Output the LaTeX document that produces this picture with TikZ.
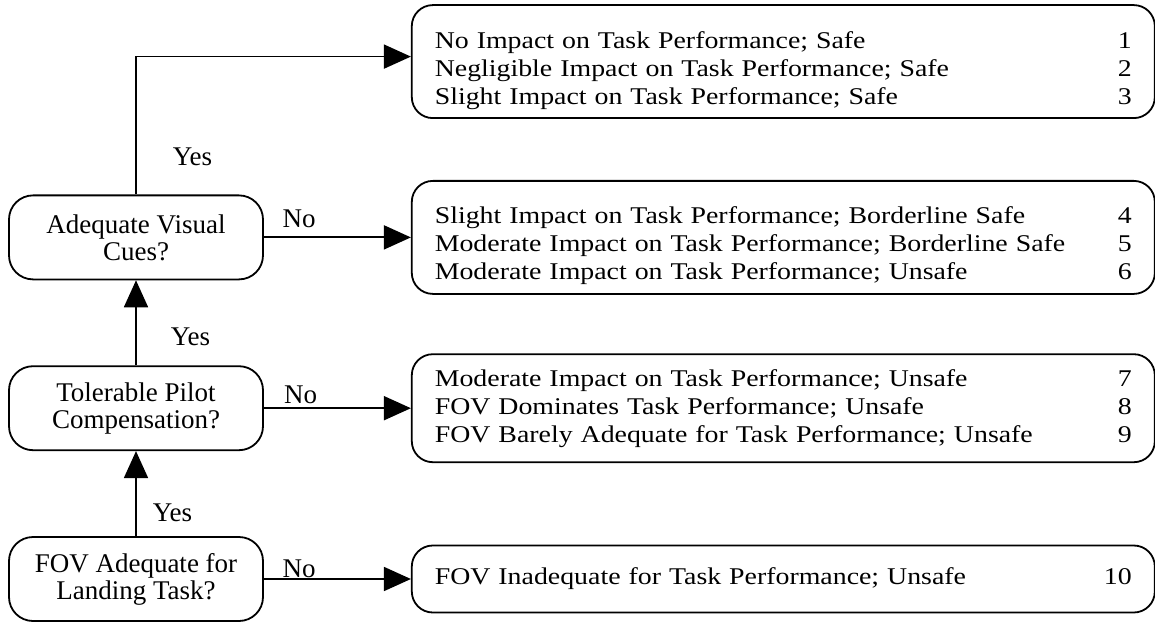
\documentclass[tikz,border=0pt]{standalone}
\usepackage{fontspec}
\setmainfont{Liberation Serif}
\newfontfamily\ratingfont[FakeStretch=1.16]{Liberation Serif}
\usepackage{tikz}
\usetikzlibrary{arrows.meta,positioning}
\tikzset{
    decision/.style={rectangle, draw, line width=1.8pt, rounded corners=24pt, minimum width=254pt, minimum height=84pt, align=center, font=\fontsize{27}{27}\selectfont},
    outcome/.style={rectangle, draw, line width=1.8pt, rounded corners=21pt, text width=697pt, inner xsep=23pt, minimum height=113pt, align=left, font=\ratingfont\fontsize{24}{28}\selectfont},
    lowered/.style={execute at begin node={\rule{0pt}{34pt}}},
    flow/.style={-{Triangle[length=27pt, width=24pt]}, line width=1.8pt},
    answer/.style={font=\fontsize{27}{27}\selectfont, inner sep=2pt},
}
\newcommand{\rating}[2]{\noindent\makebox[\hsize][l]{#1\hfill #2}}

\begin{document}
\begin{tikzpicture}[x=1pt, y=1pt, node distance=85pt and 147pt]
    \useasboundingbox (0,0) rectangle (1155,622);
    \node[decision] (fov) at (136,43) {FOV Adequate for\\Landing Task?};
    \node[decision, above=of fov] (tpc) {Tolerable Pilot\\Compensation?};
    \node[decision, above=of tpc] (avc) {Adequate Visual\\Cues?};

    \node[outcome, lowered, right=of avc] (r46) {\rating{Slight Impact on Task Performance; Borderline Safe}{4}\\
        \rating{Moderate Impact on Task Performance; Borderline Safe}{5}\\
        \rating{Moderate Impact on Task Performance; Unsafe}{6}};
    \node[outcome, lowered, above=61pt of r46] (r13) {\rating{No Impact on Task Performance; Safe}{1}\\
        \rating{Negligible Impact on Task Performance; Safe}{2}\\
        \rating{Slight Impact on Task Performance; Safe}{3}};
    \node[outcome, right=of tpc, minimum height=108pt] (r79) {\rating{Moderate Impact on Task Performance; Unsafe}{7}\\
        \rating{FOV Dominates Task Performance; Unsafe}{8}\\
        \rating{FOV Barely Adequate for Task Performance; Unsafe}{9}};
    \node[outcome, right=of fov, minimum height=67pt] (r10) {\rating{FOV Inadequate for Task Performance; Unsafe}{10}};

    \draw[flow] (fov) -- node[answer, right=14pt, pos=0.28] {Yes} (tpc);
    \draw[flow] (tpc) -- node[answer, right=32pt, pos=0.33] {Yes} (avc);
    \draw[flow] (avc.north) |- node[answer, right=34pt, pos=0.135] {Yes} ([yshift=5pt]r13.west);
    \draw[flow] (avc) -- node[answer, above=7pt, pos=0.24] {No} (r46);
    \draw[flow] (tpc) -- node[answer, above=1.7pt, pos=0.25] {No} (r79);
    \draw[flow] (fov) -- node[answer, above=-1.3pt, pos=0.24] {No} (r10);
\end{tikzpicture}
\end{document}
